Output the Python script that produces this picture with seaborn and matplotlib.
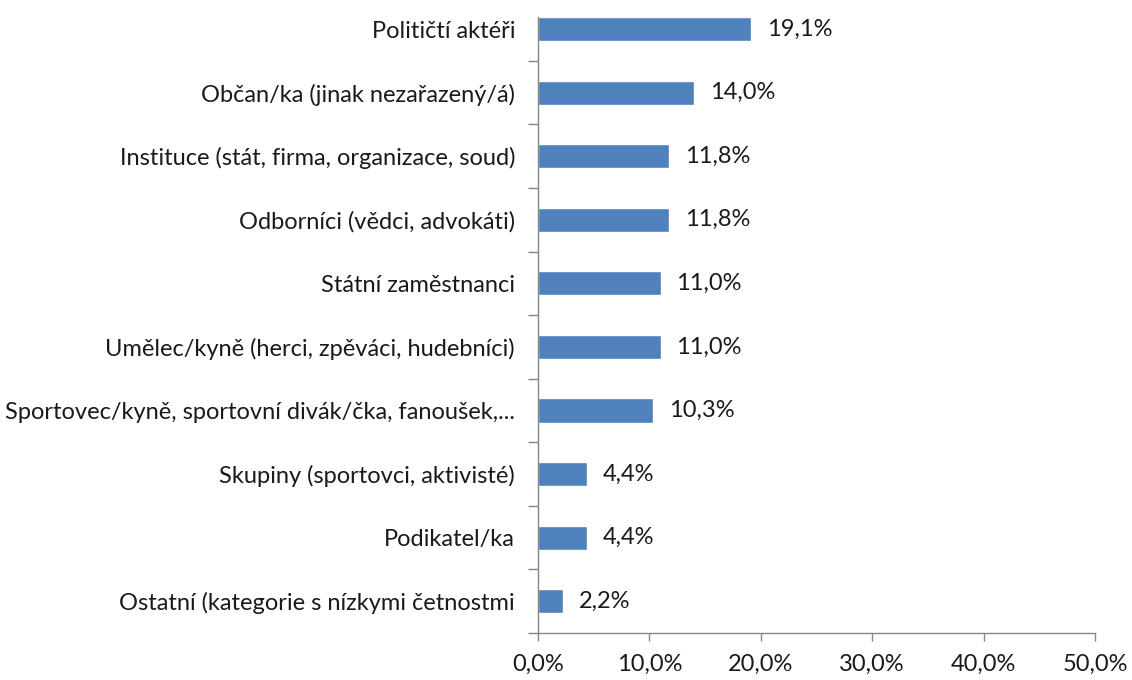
import pandas as pd
import numpy as np
import seaborn as sns
import matplotlib.pyplot as plt
from matplotlib.ticker import FixedLocator, FuncFormatter

# Data
categories = [
    "Političtí aktéři",
    "Občan/ka (jinak nezařazený/á)",
    "Instituce (stát, firma, organizace, soud)",
    "Odborníci (vědci, advokáti)",
    "Státní zaměstnanci",
    "Umělec/kyně (herci, zpěváci, hudebníci)",
    "Sportovec/kyně, sportovní divák/čka, fanoušek,...",
    "Skupiny (sportovci, aktivisté)",
    "Podikatel/ka",
    "Ostatní (kategorie s nízkymi četnostmi",
]
shares = [19.1, 14.0, 11.8, 11.8, 11.0, 11.0, 10.3, 4.4, 4.4, 2.2]
x_ticks = [0, 10, 20, 30, 40, 50]

df = pd.DataFrame({"kategorie": categories, "podil": shares})

sns.set_theme(style="white")
plt.rcParams["font.family"] = ["Lato", "DejaVu Sans"]
fs = 17

fig = plt.figure(figsize=(11.32, 6.8), dpi=100)
ax = fig.add_axes([538 / 1132, 47 / 680, 557 / 1132, 616 / 680])

sns.barplot(data=df, x="podil", y="kategorie", orient="h", color="#4F81BD",
            width=0.38, saturation=1, ax=ax)

for i, v in enumerate(shares):
    ax.annotate(f"{v:.1f}%".replace(".", ","), (v, i), xytext=(11.5, 0),
                textcoords="offset points", va="center", ha="left",
                fontsize=fs, color="#1a1a1a")

ax.set_xlim(0, 50)
# top of the plot area is cut just above the first bar
ax.set_ylim(9.5, -0.19)
ax.set_xlabel("")
ax.set_ylabel("")

ax.xaxis.set_major_locator(FixedLocator(x_ticks))
ax.xaxis.set_major_formatter(FuncFormatter(lambda v, p: f"{v:.1f}%".replace(".", ",")))

# category ticks sit between the bars, labels on the bars
ax.yaxis.set_minor_locator(FixedLocator(np.arange(0.5, 10, 1)))
ax.tick_params(axis="y", which="major", length=0, pad=16.5, labelsize=fs, labelcolor="#1a1a1a")
ax.tick_params(axis="y", which="minor", length=7, width=1, color="#868686", direction="out", left=True)
ax.tick_params(axis="x", which="major", length=6, width=1, color="#868686", direction="out",
               bottom=True, labelsize=fs, labelcolor="#1a1a1a", pad=9)

for side in ["top", "right"]:
    ax.spines[side].set_visible(False)
for side in ["left", "bottom"]:
    ax.spines[side].set_color("#868686")
    ax.spines[side].set_linewidth(1)

fig.savefig("out.png", dpi=100)
